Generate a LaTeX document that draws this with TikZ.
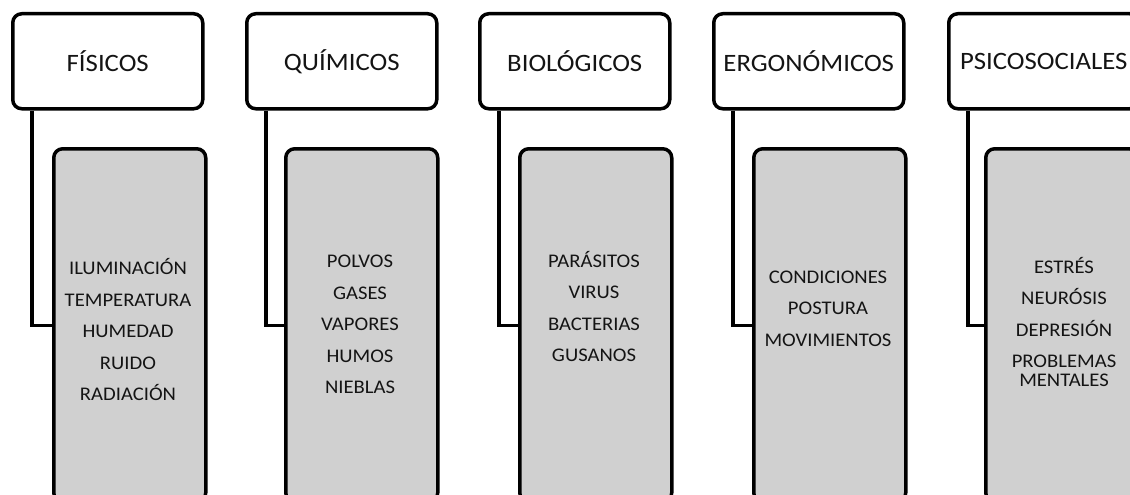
\documentclass[tikz,border=0pt]{standalone}
\usepackage{fontspec}
\setmainfont{Carlito}[FakeStretch=1.07]
\definecolor{boxgray}{RGB}{208,208,208}
\definecolor{txt}{RGB}{20,20,20}
\tikzset{
  head/.style={draw=black, line width=3.5pt, rounded corners=9pt, fill=white,
    minimum width=190pt, minimum height=95pt, anchor=north west, inner sep=0pt,
    font=\fontsize{25}{30}\selectfont, text=txt},
  itembox/.style={draw=black, line width=3.5pt, rounded corners=9pt, fill=boxgray,
    minimum width=152pt, minimum height=353pt, anchor=north west, inner sep=0pt},
  items/.style={align=center, font=\fontsize{19.3}{31.5}\selectfont, text=txt, inner sep=0pt},
  link/.style={draw=black, line width=3.5pt}
}
\begin{document}
\begin{tikzpicture}[x=1pt,y=-1pt]
\useasboundingbox (0,0) rectangle (1130,495);
\clip (0,0) rectangle (1130,495);
% headers
\node[head] (h1) at (11,12) {FÍSICOS};
\node[head] (h2) at (245,12) {QUÍMICOS};
\node[head] (h3) at (478,12) {BIOLÓGICOS};
\node[head] (h4) at (712,12) {ERGONÓMICOS};
\node[head] (h5) at (947,12) {PSICOSOCIALES};
% grey boxes
\node[itembox] (g1) at (52,147) {};
\node[itembox] (g2) at (284,147) {};
\node[itembox] (g3) at (518,147) {};
\node[itembox] (g4) at (752,147) {};
\node[itembox] (g5) at (984,147) {};
% connectors
\foreach \i in {1,...,5}{
  \draw[link] ([xshift=21pt]h\i.south west) |- (g\i.west);
}
% item texts
\node[items] (t1) at (128,330) {ILUMINACIÓN\\TEMPERATURA\\HUMEDAD\\RUIDO\\RADIACIÓN};
\node[items] (t2) at (360,324.5) {POLVOS\\GASES\\VAPORES\\HUMOS\\NIEBLAS};
\node[items] (t3) at (594,306.5) {PARÁSITOS\\VIRUS\\BACTERIAS\\GUSANOS};
\node[items] (t4) at (828,308.5) {CONDICIONES\\POSTURA\\MOVIMIENTOS};
\node[items] (t5) at (1064,322) {ESTRÉS\\NEURÓSIS\\DEPRESIÓN\\PROBLEMAS\\[-12.5pt]MENTALES};
\end{tikzpicture}
\end{document}
